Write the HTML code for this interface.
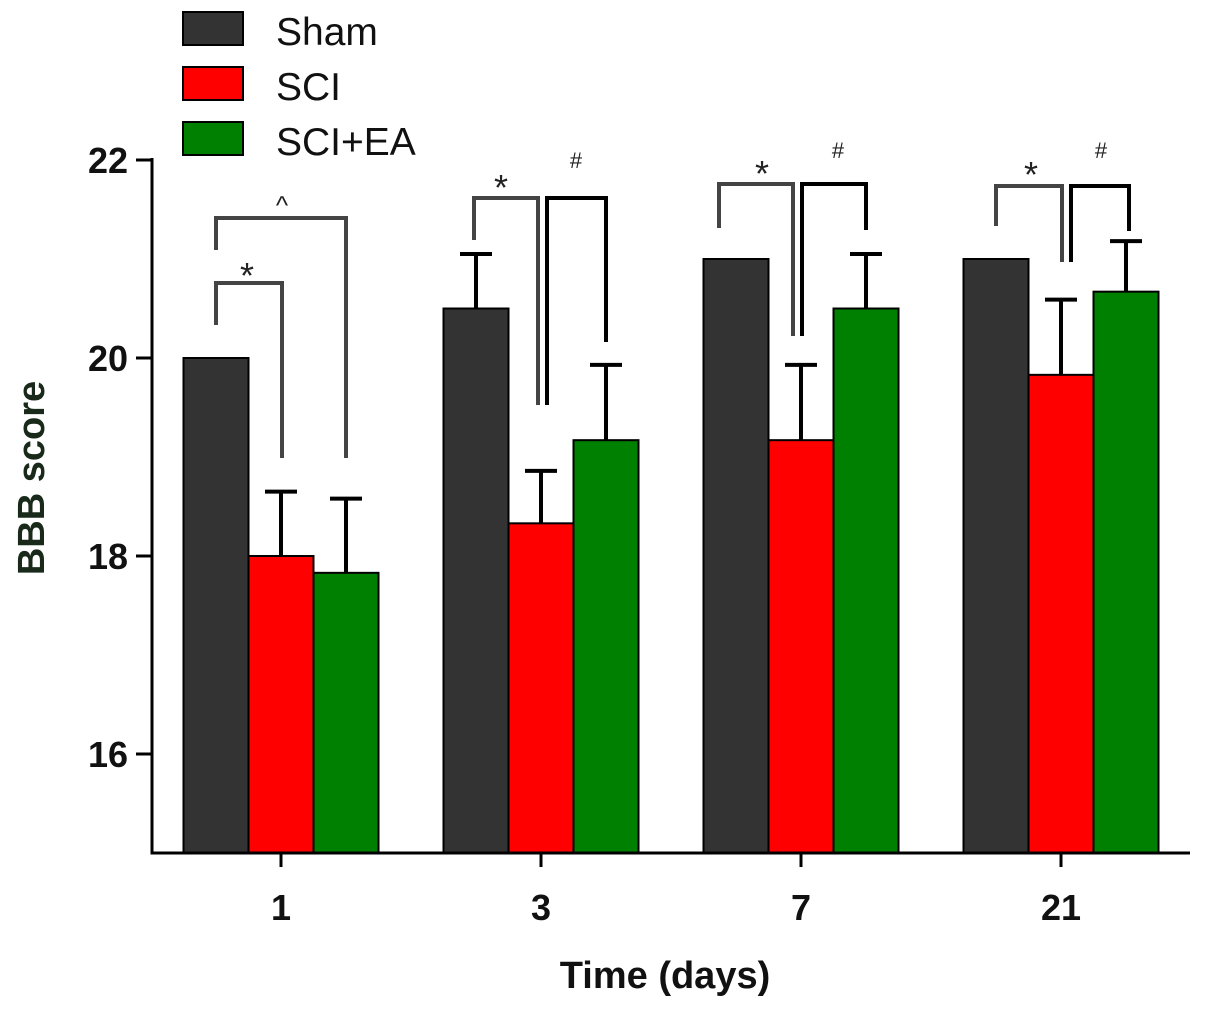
<!DOCTYPE html>
<html><head><meta charset="utf-8"><style>
html,body{margin:0;padding:0;background:#fff;}
svg{display:block;font-family:"Liberation Sans",Arial,sans-serif;}
</style></head><body>
<svg id="chart" width="1205" height="1013" viewBox="0 0 1205 1013">
<g id="legend">
 <g><rect x="183" y="12" width="60" height="33" fill="#333" stroke="#000" stroke-width="2"/><text x="276" y="45" font-size="39" fill="#111">Sham</text></g>
 <g><rect x="183" y="67" width="60" height="33" fill="#f00" stroke="#000" stroke-width="2"/><text x="276" y="100" font-size="39" fill="#111">SCI</text></g>
 <g><rect x="183" y="122" width="60" height="33" fill="#008000" stroke="#000" stroke-width="2"/><text x="276" y="155" font-size="39" fill="#111">SCI+EA</text></g>
</g>
<g id="bars"></g>
<g id="errs"></g>
<g id="axes"></g>
<g id="sig" fill="none" stroke-width="4"></g>
<text x="665" y="988" font-size="38" font-weight="bold" text-anchor="middle" fill="#111">Time (days)</text>
<text transform="translate(44,478) rotate(-90)" font-size="38" font-weight="bold" text-anchor="middle" fill="#1a2a1a">BBB score</text>
</svg>
<script>
const categories = ["1","3","7","21"];
const seriesNames = ["Sham","SCI","SCI+EA"];
const shamValues = [20, 20.5, 21, 21];
const sciValues = [18, 18.33, 19.17, 19.83];
const eaValues = [17.83, 19.17, 20.5, 20.67];
const shamErr = [0, 0.55, 0, 0];
const sciErr = [0.65, 0.53, 0.76, 0.76];
const eaErr = [0.75, 0.76, 0.55, 0.51];
const yTicks = [16, 18, 20, 22];

const NS = "http://www.w3.org/2000/svg";
const x0 = 152, x1 = 1190, yTop = 160, yBot = 853, yMin = 15, yMax = 22;
function yScale(v){ return yBot - (v - yMin) / (yMax - yMin) * (yBot - yTop); }
const groupW = 260, barW = 65;
function groupCenter(i){ return 281 + i * groupW; }
function barX(i, s){ return groupCenter(i) - barW * 1.5 + s * barW; }
function mk(tag, attrs, parent){ const e = document.createElementNS(NS, tag); for (const k in attrs) e.setAttribute(k, attrs[k]); parent.appendChild(e); return e; }

const colors = ["#333333", "#ff0000", "#008000"];
const vals = [shamValues, sciValues, eaValues];
const errs = [shamErr, sciErr, eaErr];
const gb = document.getElementById("bars"), ge = document.getElementById("errs");
categories.forEach((c, i) => {
  vals.forEach((arr, s) => {
    const x = barX(i, s), y = yScale(arr[i]);
    const r = mk("rect", {x: x, y: y, width: barW, height: yBot - y, fill: colors[s], stroke: "#000", "stroke-width": 2}, gb);
    
    
    const e = errs[s][i];
    if (e > 0) {
      const cx = x + barW / 2, ty = yScale(arr[i] + e);
      const g = mk("g", {stroke: "#000", "stroke-width": 4}, ge);
      
      
      mk("line", {x1: cx, y1: y, x2: cx, y2: ty}, g);
      mk("line", {x1: cx - 16, y1: ty, x2: cx + 16, y2: ty}, g);
    }
  });
});

const ga = document.getElementById("axes");
const ya = mk("line", {x1: x0, y1: yTop - 2, x2: x0, y2: yBot, stroke: "#000", "stroke-width": 3}, ga);


const xa = mk("line", {x1: x0 - 1.5, y1: yBot, x2: x1, y2: yBot, stroke: "#000", "stroke-width": 3}, ga);


yTicks.forEach(t => {
  const y = yScale(t);
  mk("line", {x1: x0 - 16, y1: y, x2: x0, y2: y, stroke: "#000", "stroke-width": 3}, ga);
  const tx = mk("text", {x: x0 - 24, y: y + 13, "font-size": 36, "font-weight": "bold", "text-anchor": "end", fill: "#111"}, ga);
  tx.textContent = t;
  
  
});
categories.forEach((c, i) => {
  const cx = groupCenter(i);
  mk("line", {x1: cx, y1: yBot, x2: cx, y2: yBot + 14, stroke: "#000", "stroke-width": 3}, ga);
  const tx = mk("text", {x: cx, y: 920, "font-size": 36, "font-weight": "bold", "text-anchor": "middle", fill: "#111"}, ga);
  tx.textContent = c;
  
  
});

// significance annotations (layout)
const gs = document.getElementById("sig");
const brackets = [
  {p: "M216,325 V283 H282 V458", c: "#444", t: "*", tx: 247, ty: 288, fs: 36},
  {p: "M216,250 V218 H346 V458", c: "#444", t: "^", tx: 282, ty: 214, fs: 26},
  {p: "M474,240 V198 H538 V405", c: "#444", t: "*", tx: 501, ty: 200, fs: 36},
  {p: "M547,405 V198 H606 V342", c: "#000", t: "#", tx: 576, ty: 168, fs: 22},
  {p: "M719,228 V184 H793 V336", c: "#444", t: "*", tx: 762, ty: 186, fs: 36},
  {p: "M802,336 V184 H866 V230", c: "#000", t: "#", tx: 838, ty: 158, fs: 22},
  {p: "M996,226 V186 H1062 V262", c: "#444", t: "*", tx: 1031, ty: 187, fs: 36},
  {p: "M1071,262 V186 H1129 V231", c: "#000", t: "#", tx: 1101, ty: 158, fs: 22}
];
brackets.forEach(b => {
  const p = mk("path", {d: b.p, stroke: b.c}, gs);
  
  
  const t = mk("text", {x: b.tx, y: b.ty, "font-size": b.fs, "text-anchor": "middle", fill: "#222", stroke: "none"}, gs);
  t.textContent = b.t;
  
  
});
</script>
</body></html>
